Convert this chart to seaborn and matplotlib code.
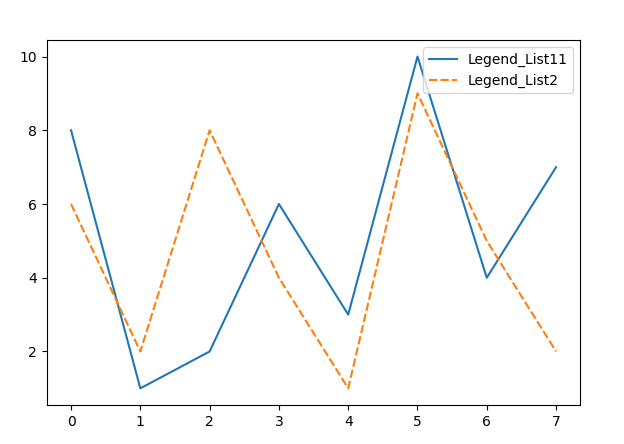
import pandas as pd
import matplotlib
matplotlib.use("Agg")
import matplotlib.pyplot as plt
import seaborn as sns

x_values = [0, 1, 2, 3, 4, 5, 6, 7]
list1 = [8, 1, 2, 6, 3, 10, 4, 7]
list2 = [6, 2, 8, 4, 1, 9, 5, 2]

df = pd.DataFrame({"Legend_List11": list1, "Legend_List2": list2}, index=x_values)

fig, ax = plt.subplots(figsize=(6.24, 4.44), dpi=100)
fig.subplots_adjust(left=0.075, right=0.93, top=0.91, bottom=0.088)
sns.lineplot(data=df, ax=ax)
ax.legend(loc="upper right")
fig.savefig("out.png", dpi=100)
